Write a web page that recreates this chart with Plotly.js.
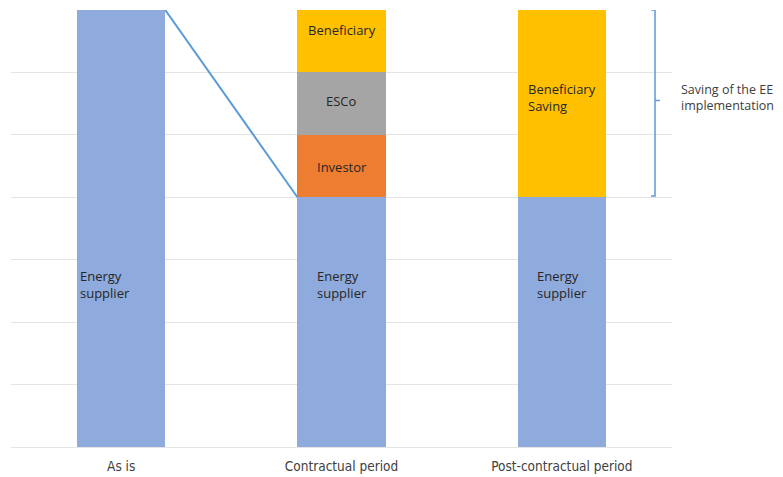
<!DOCTYPE html>
<html><head><meta charset="utf-8">
<script src="https://cdn.plot.ly/plotly-3.0.1.min.js"></script>
<style>html,body{margin:0;padding:0;background:#fff;}#chart{width:783px;height:477px;}</style>
</head><body><div id="chart"></div>
<script>
const categories = ["As is", "Contractual period", "Post-contractual period"];
const energySupplier = [7, 4, 4];
const investor = [0, 1, 0];
const esco = [0, 1, 0];
const beneficiary = [0, 1, 3];
const seriesNames = ["Energy supplier", "Investor", "ESCo", "Beneficiary"];
const colors = ["#8FAADC", "#ED7D31", "#A5A5A5", "#FFC000"];

const seriesValues = [energySupplier, investor, esco, beneficiary];
const traces = seriesValues.map((v, i) => ({
  type: "bar", x: categories, y: v, name: seriesNames[i],
  marker: {color: colors[i], line: {width: 0}}, hoverinfo: "skip"
}));

const txt = {family: "Open Sans, Noto Sans, sans-serif", size: 13, color: "#262626"};
const bw = 0.4;
const annotations = [
  {x: categories[0], y: 2.6, xshift: -43, xanchor: "left", text: "Energy<br>supplier", align: "left"},
  {x: categories[1], y: 2.6, text: "Energy<br>supplier", align: "left"},
  {x: categories[2], y: 2.6, text: "Energy<br>supplier", align: "left"},
  {x: categories[1], y: 4.48, text: "Investor"},
  {x: categories[1], y: 5.55, text: "ESCo"},
  {x: categories[1], y: 6.68, text: "Beneficiary"},
  {x: categories[2], y: 5.6, xshift: -36, xanchor: "left", text: "Beneficiary<br>Saving", align: "left"},
  {xref: "paper", x: 1.01, xanchor: "left", y: 5.6, text: "Saving of the EE<br>implementation", align: "left",
   font: {family: "Open Sans, Noto Sans, sans-serif", size: 12.5, color: "#404040"}}
].map(a => Object.assign({showarrow: false, font: txt, yref: "y", xref: a.xref || "x"}, a));

const layout = {
  width: 783, height: 477,
  margin: {l: 11, r: 111, t: 10, b: 30},
  barmode: "stack", bargap: 1 - bw,
  showlegend: false,
  paper_bgcolor: "#fff", plot_bgcolor: "#fff",
  xaxis: {type: "category", showgrid: false, showline: false, ticks: "", ticklabelstandoff: 9,
          tickfont: {family: "Liberation Sans Narrow, DejaVu Sans Condensed, sans-serif", size: 13.5, color: "#404040"}},
  yaxis: {range: [0, 7], dtick: 1, showticklabels: false, gridcolor: "#E4E4E4", gridwidth: 1,
          zeroline: true, zerolinecolor: "#E4E4E4", zerolinewidth: 1, showline: false, ticks: ""},
  annotations: annotations,
  shapes: [
    {type: "line", xref: "x", yref: "y", x0: bw/2, y0: 7, x1: 1 - bw/2, y1: 4,
     line: {color: "#5B9BD5", width: 2}},
    {type: "path", xref: "x", yref: "y",
     path: "M 2.405 7 L 2.423 7 L 2.423 4.02 L 2.405 4.02 M 2.423 5.55 L 2.445 5.55",
     line: {color: "#5B9BD5", width: 1.5}}
  ]
};

Plotly.newPlot("chart", traces, layout, {displayModeBar: false, staticPlot: true});
</script></body></html>
